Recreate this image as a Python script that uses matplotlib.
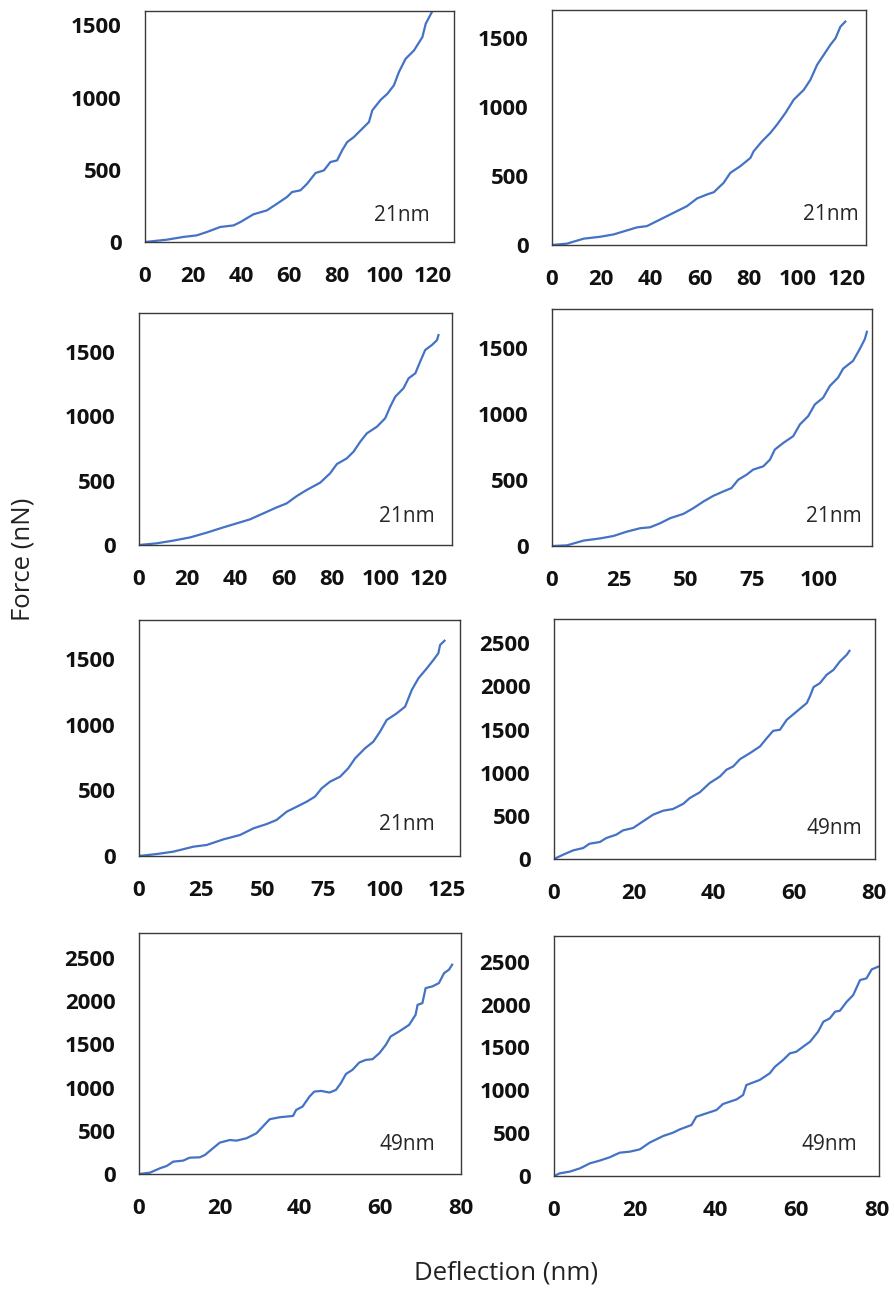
import matplotlib.pyplot as plt

plt.rcParams['font.family'] = ['Open Sans', 'DejaVu Sans']

W, H = 895, 1290
BLUE = '#4472C4'

# force-deflection curves, 21 nm tips
defl_1 = [0, 9.1, 16, 21.6, 25.8, 31.4, 37, 39.8, 45.3, 50.9, 55.1, 59.3, 61.4, 64.9,
          67.7, 71.2, 74.7, 77.4, 80.2, 82.3, 84.4, 87.2, 90.7, 93.5, 94.9, 98.4,
          101.2, 103.9, 106, 108.8, 112.3, 115.8, 117.2, 120]
force_1 = [0, 16, 35, 46, 69, 104, 115, 138, 192, 219, 265, 312, 346, 358,
           404, 478, 496, 554, 565, 635, 692, 727, 785, 831, 912, 985,
           1027, 1085, 1177, 1269, 1327, 1419, 1512, 1600]

defl_2 = [0, 6.1, 12.9, 19.7, 25.1, 30.5, 34.6, 38.6, 44.1, 49.5, 54.9, 59, 63.1, 65.8,
          69.8, 72.5, 76.6, 80.7, 82, 85.4, 88.8, 91.5, 94.9, 98.3, 102.4, 105.1,
          107.8, 110.5, 113.2, 115.3, 117.3, 119.3]
force_2 = [0, 10, 46, 60, 77, 106, 128, 137, 186, 234, 282, 338, 367, 383,
           451, 523, 572, 632, 680, 752, 813, 873, 957, 1054, 1126, 1199,
           1307, 1379, 1452, 1500, 1584, 1621]

defl_3 = [0, 7.3, 14.2, 21.2, 28.1, 35, 40.5, 46, 51.6, 57.1, 61.2, 65.4, 69.5, 75.1,
          79.2, 82, 86.1, 88.9, 91.7, 94.4, 98.6, 102, 104.1, 106.2, 109.6, 111.7,
          114.5, 116.5, 118.6, 121.4, 123.5, 124.1]
force_3 = [0, 13, 34, 59, 96, 137, 168, 199, 246, 292, 323, 380, 427, 484,
           556, 628, 672, 724, 802, 866, 918, 983, 1073, 1151, 1216, 1293,
           1332, 1422, 1513, 1552, 1590, 1629]

defl_4 = [0, 5.6, 11.8, 18.1, 23, 28, 33, 36.7, 40.5, 44.2, 49.2, 52.9, 56.7, 60.4,
          64.1, 67.2, 69.7, 72.9, 75.3, 79.1, 81.6, 83.4, 86.6, 90.3, 92.8, 95.9,
          98.4, 101.5, 104, 107.1, 109, 112.7, 115.2, 117.1, 117.9]
force_4 = [0, 5, 41, 58, 76, 109, 135, 142, 173, 211, 244, 287, 338, 381,
           414, 440, 503, 542, 580, 605, 656, 732, 783, 834, 923, 986,
           1075, 1126, 1215, 1279, 1347, 1406, 1495, 1571, 1627]

defl_5 = [0, 7.2, 13.9, 22.1, 27.5, 34.3, 41, 46.5, 51.9, 55.9, 60, 64.1, 68.1, 71.5,
          74.2, 77.6, 81.7, 85, 87.8, 91.8, 95.2, 97.9, 100.6, 104.7, 108.1, 110.8,
          113.5, 116.9, 119.6, 121.6, 122.3, 124.1]
force_5 = [0, 15, 33, 71, 84, 127, 160, 211, 244, 275, 338, 376, 414, 453,
           516, 567, 605, 669, 745, 821, 872, 948, 1037, 1088, 1139, 1266,
           1355, 1431, 1495, 1546, 1609, 1642]

# 49 nm tips
defl_6 = [0, 2.3, 4.8, 7.3, 8.9, 11.5, 13.1, 15.6, 17.3, 19.8, 22.3, 24.8, 27.3, 29.8,
          32.4, 34, 36.5, 39, 41.6, 43.2, 44.9, 46.6, 49.1, 51.6, 53.3, 54.9, 56.6,
          58.3, 60.8, 63.3, 64.1, 65, 66.6, 68.3, 70, 71.6, 73.3, 74]
force_6 = [0, 50, 100, 127, 177, 197, 243, 282, 332, 359, 436, 513, 559, 579,
           640, 706, 772, 880, 957, 1034, 1073, 1157, 1227, 1304, 1400, 1485, 1497,
           1613, 1709, 1806, 1883, 1991, 2037, 2134, 2191, 2288, 2365, 2411]

defl_7 = [0, 2.7, 5.2, 6.9, 8.5, 11, 12.6, 15.1, 16.4, 18.4, 20.1, 22.6, 24.2, 26.7,
          29.2, 30.8, 32.5, 35, 38.3, 39.1, 40.7, 42.4, 43.6, 45.3, 47.4, 49, 50.2,
          51.5, 53.1, 54.8, 56.4, 58.1, 59.8, 61.4, 62.6, 64.7, 67.2, 68.8, 69.3,
          70.5, 71.3, 73, 74.6, 75.9, 77.1, 77.9]
force_7 = [0, 15, 66, 93, 143, 155, 189, 193, 220, 298, 363, 394, 386, 413,
           471, 549, 634, 657, 672, 742, 781, 896, 954, 962, 943, 974, 1051,
           1159, 1206, 1291, 1321, 1329, 1399, 1495, 1592, 1650, 1727, 1843, 1959,
           1978, 2152, 2172, 2210, 2326, 2365, 2423]

defl_8 = [0, 1.4, 3.9, 6.4, 8.9, 11.3, 13.8, 16.3, 18.8, 21.3, 23.7, 27.1, 29.5, 31.2,
          34.1, 35.3, 37.8, 40.3, 41.9, 45.3, 46.9, 47.7, 51, 53.5, 54.8, 56.8, 58.5,
          60.1, 61.8, 63.5, 65.5, 66.8, 68.4, 69.7, 70.9, 72.6, 74.2, 75.9, 77.5,
          78.8, 80.4]
force_8 = [0, 31, 51, 89, 148, 179, 218, 272, 284, 311, 389, 467, 505, 544,
           595, 692, 731, 770, 840, 894, 945, 1061, 1120, 1198, 1275, 1353, 1431,
           1450, 1509, 1567, 1684, 1800, 1839, 1917, 1928, 2033, 2111, 2286, 2306,
           2411, 2442]

curves = [(defl_1, force_1), (defl_2, force_2), (defl_3, force_3), (defl_4, force_4),
          (defl_5, force_5), (defl_6, force_6), (defl_7, force_7), (defl_8, force_8)]
tip_labels = ['21nm'] * 5 + ['49nm'] * 3

x_ticks = [range(0, 121, 20), range(0, 121, 20), range(0, 121, 20), range(0, 101, 25),
           range(0, 126, 25), range(0, 81, 20), range(0, 81, 20), range(0, 81, 20)]
y_ticks = [range(0, 1501, 500)] * 5 + [range(0, 2501, 500)] * 3
x_max = [129, 127.7, 129.7, 119.8, 130.4, 80.4, 80.1, 80.6]
y_max = [1600, 1705, 1800, 1800, 1800, 2780, 2790, 2800]

# plot boxes in pixels: left, right, top, bottom
boxes = [(145, 454, 11, 242), (552, 866, 10, 245),
         (139, 452, 313, 545), (552, 872, 309, 546),
         (139, 460, 620, 856), (554, 875, 619, 859),
         (139, 461, 933, 1174), (554, 879, 936, 1176)]
label_pos = [(0.922, 0.09), (0.975, 0.106), (0.946, 0.099), (0.969, 0.10),
             (0.922, 0.11), (0.96, 0.104), (0.919, 0.10), (0.932, 0.108)]

fig = plt.figure(figsize=(W / 100, H / 100), dpi=100)

for i, (xs, ys) in enumerate(curves):
    l, r, t, b = boxes[i]
    ax = fig.add_axes([l / W, 1 - b / H, (r - l) / W, (b - t) / H])
    ax.plot(xs, ys, color=BLUE, lw=1.6)
    ax.set_xlim(0, x_max[i])
    ax.set_ylim(0, y_max[i])
    ax.set_xticks(list(x_ticks[i]))
    ax.set_yticks(list(y_ticks[i]))
    ax.tick_params(length=0, labelsize=16, pad=17, labelcolor='#111111')
    for lab in ax.get_xticklabels() + ax.get_yticklabels():
        lab.set_fontweight('bold')
    for sp in ax.spines.values():
        sp.set_color('#3a3a3a')
        sp.set_linewidth(1.0)
    tx, ty = label_pos[i]
    ax.text(tx, ty, tip_labels[i], transform=ax.transAxes, ha='right', va='baseline',
            fontsize=15, color='#262626')

fig.text(23 / W, 1 - 559 / H, 'Force (nN)', rotation=90, ha='center', va='center',
         fontsize=18.5, color='#222222')
fig.text(506 / W, 1 - 1273 / H, 'Deflection (nm)', ha='center', va='center',
         fontsize=18.5, color='#222222')

fig.savefig('out.png', dpi=100)
